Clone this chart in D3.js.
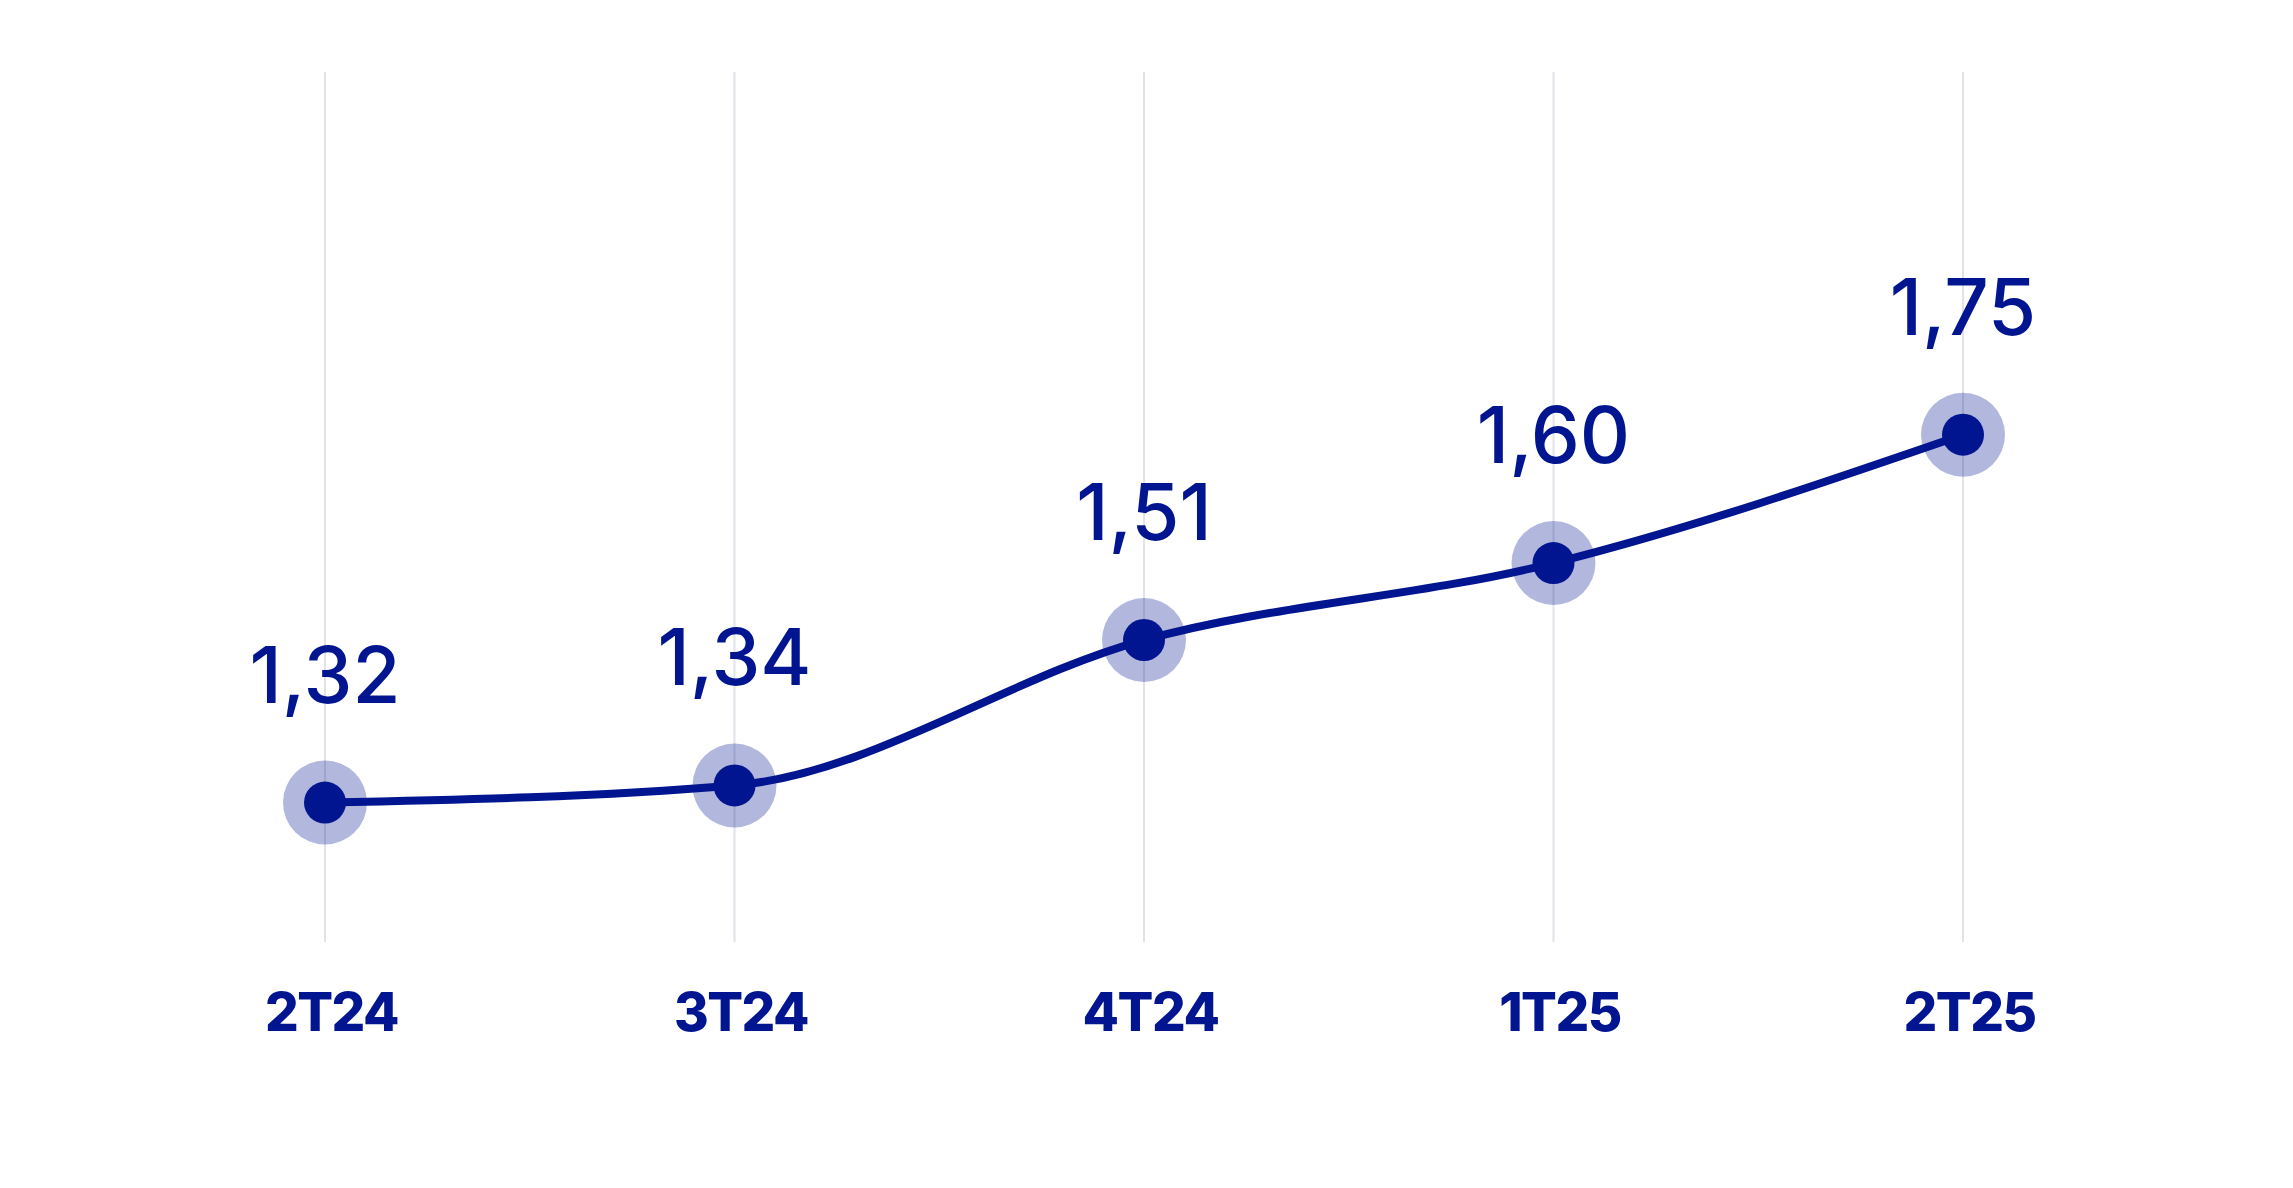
<!DOCTYPE html>
<html>
<head>
<meta charset="utf-8">
<script src="https://cdn.jsdelivr.net/npm/d3@7"></script>
<style>
  html, body { margin: 0; padding: 0; background: #fff; }
  .val { font-family: Inter, "Noto Sans", sans-serif; font-weight: 500; }
  .tick text { font-family: Inter, "Noto Sans", sans-serif; font-weight: 800; letter-spacing: -1.5px; }
</style>
</head>
<body>
<svg id="chart"></svg>
<script>
// quarters and the indicator value shown above each point
var quarters = ["2T24", "3T24", "4T24", "1T25", "2T25"];
var values = [1.32, 1.34, 1.51, 1.60, 1.75];
var valueLabels = ["1,32", "1,34", "1,51", "1,60", "1,75"];

var width = 2293, height = 1188;
var navy = "#00158f";
var gridTop = 72, gridBottom = 942;

var data = quarters.map(function (q, i) {
  return { q: q, v: values[i], label: valueLabels[i] };
});

var svg = d3.select("#chart")
  .attr("width", width)
  .attr("height", height);

var x = d3.scalePoint()
  .domain(quarters)
  .range([325, 1963]);

var y = d3.scaleLinear()
  .domain([1.157, 2.174])
  .range([gridBottom, gridTop]);

// vertical gridlines
svg.append("g")
  .selectAll("line")
  .data(quarters)
  .enter()
  .append("line")
  .attr("x1", d => x(d))
  .attr("x2", d => x(d))
  .attr("y1", gridTop)
  .attr("y2", gridBottom)
  .attr("stroke", "#e1e3e9")
  .attr("stroke-width", 2);

// halo behind each point
svg.append("g")
  .selectAll("circle")
  .data(data)
  .enter()
  .append("circle")
  .attr("cx", d => x(d.q))
  .attr("cy", d => y(d.v))
  .attr("r", 42)
  .attr("fill", navy)
  .attr("fill-opacity", 0.3);

svg.append("path")
  .datum(data)
  .attr("fill", "none")
  .attr("stroke", navy)
  .attr("stroke-width", 8)
  .attr("d", d3.line()
    .curve(d3.curveMonotoneX)
    .x(d => x(d.q))
    .y(d => y(d.v)));

svg.append("g")
  .selectAll("circle")
  .data(data)
  .enter()
  .append("circle")
  .attr("cx", d => x(d.q))
  .attr("cy", d => y(d.v))
  .attr("r", 21)
  .attr("fill", navy);

// value labels
svg.append("g")
  .selectAll("text")
  .data(data)
  .enter()
  .append("text")
  .attr("class", "val")
  .attr("x", d => x(d.q))
  .attr("y", d => y(d.v) - 100)
  .attr("text-anchor", "middle")
  .attr("font-size", 78)
  .attr("fill", navy)
  .text(d => d.label);

// quarter axis
var axis = svg.append("g")
  .attr("transform", "translate(0," + gridBottom + ")")
  .call(d3.axisBottom(x).tickSize(0));
axis.select(".domain").remove();
axis.selectAll(".tick text")
  .attr("y", 89)
  .attr("dy", 0)
  .attr("dx", 6)
  .attr("font-size", 53)
  .attr("fill", navy);
</script>
</body>
</html>
